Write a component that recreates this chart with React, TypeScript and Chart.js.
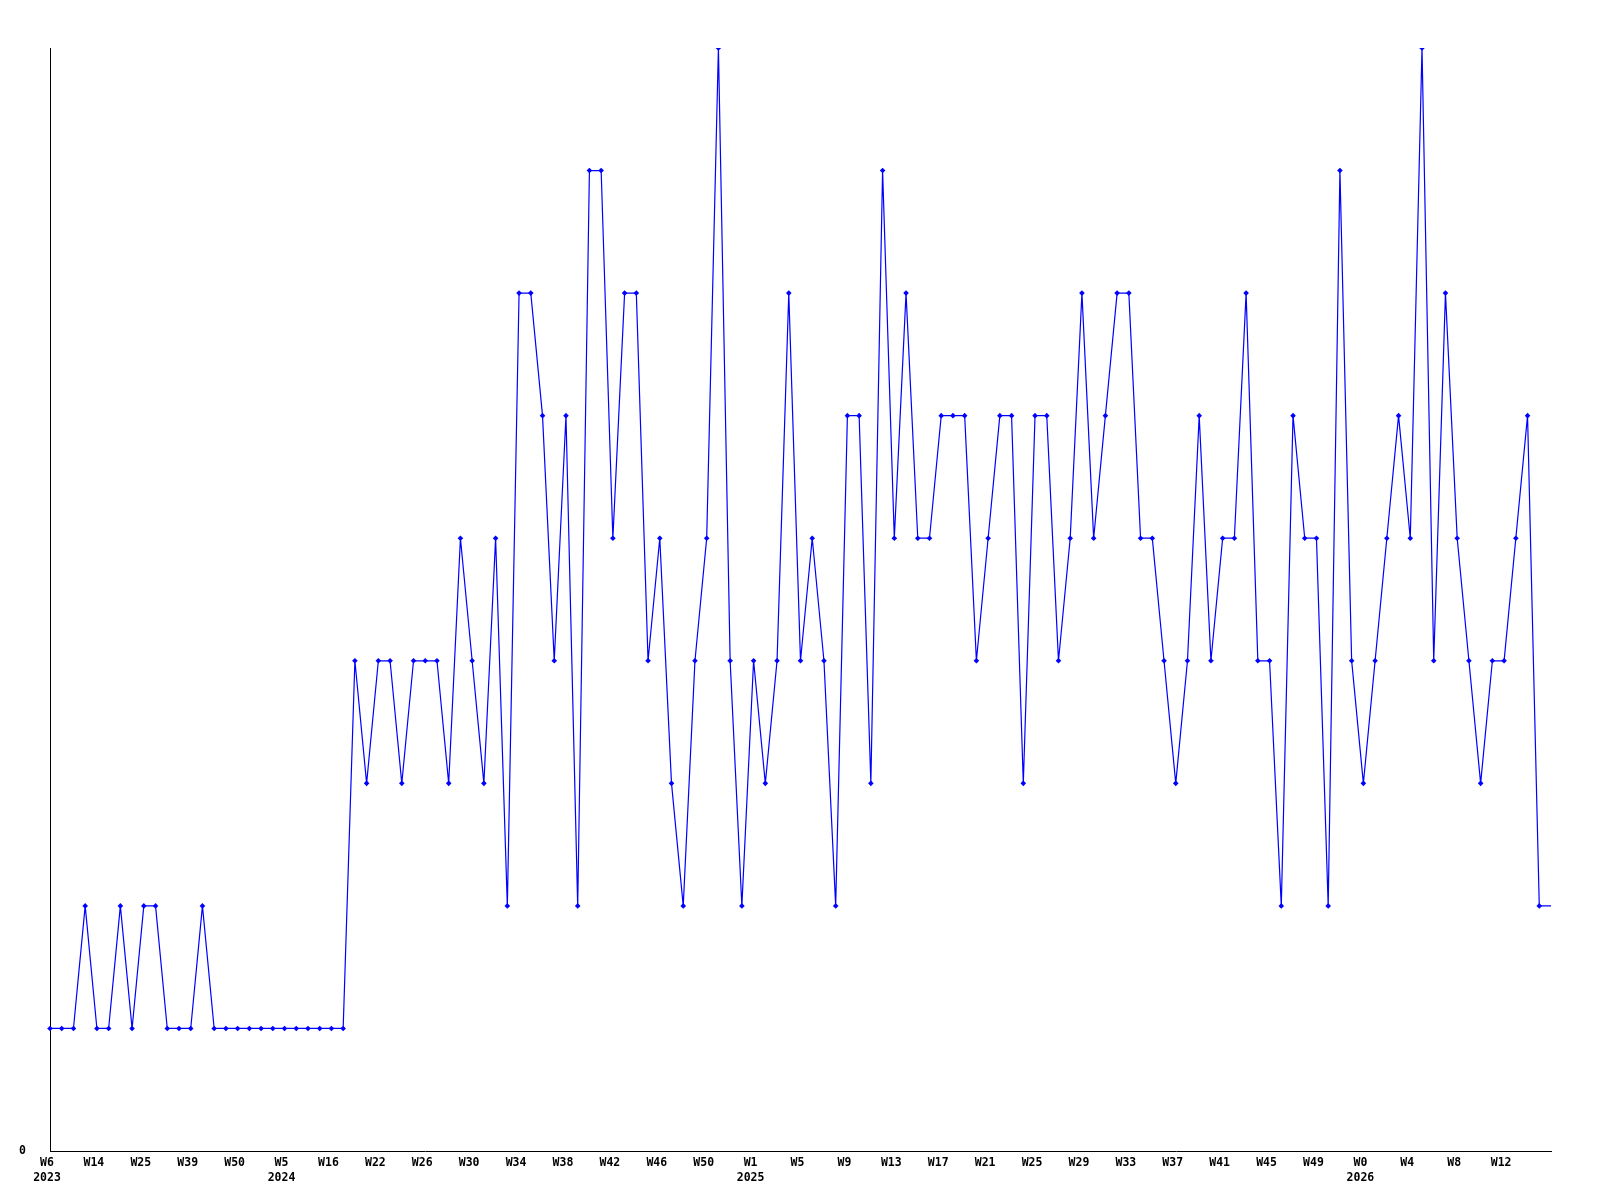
import React, { useEffect, useRef } from "react";
import { Chart, registerables } from "chart.js";

Chart.register(...registerables);

const weeks: number[] = [
  6, 8, 10, 12, 14, 17, 19, 22, 25, 29, 32, 36, 39, 42, 45, 47, 50, 52,
  1, 3, 5, 8, 11, 13, 16, 18, 20, 21, 22, 23, 24, 25, 26, 27, 28, 29, 30, 31, 32, 33, 34, 35, 36, 37, 38, 39, 40, 41, 42, 43, 44, 45, 46, 47, 48, 49, 50, 51, 52,
  0, 1, 2, 3, 4, 5, 6, 7, 8, 9, 10, 11, 12, 13, 14, 15, 16, 17, 18, 19, 20, 21, 22, 23, 24, 25, 26, 27, 28, 29, 30, 31, 32, 33, 34, 35, 36, 37, 38, 39, 40, 41, 42, 43, 44, 45, 46, 47, 48, 49, 50, 51, 52,
  0, 1, 2, 3, 4, 5, 6, 7, 8, 9, 10, 11, 12, 13, 14, 15, 16,
];

const years: number[] = [
  2023, 2023, 2023, 2023, 2023, 2023, 2023, 2023, 2023, 2023, 2023, 2023, 2023, 2023, 2023, 2023, 2023, 2023,
  2024, 2024, 2024, 2024, 2024, 2024, 2024, 2024, 2024, 2024, 2024, 2024, 2024, 2024, 2024, 2024, 2024, 2024, 2024, 2024, 2024, 2024, 2024, 2024, 2024, 2024, 2024, 2024, 2024, 2024, 2024, 2024, 2024, 2024, 2024, 2024, 2024, 2024, 2024, 2024, 2024,
  2025, 2025, 2025, 2025, 2025, 2025, 2025, 2025, 2025, 2025, 2025, 2025, 2025, 2025, 2025, 2025, 2025, 2025, 2025, 2025, 2025, 2025, 2025, 2025, 2025, 2025, 2025, 2025, 2025, 2025, 2025, 2025, 2025, 2025, 2025, 2025, 2025, 2025, 2025, 2025, 2025, 2025, 2025, 2025, 2025, 2025, 2025, 2025, 2025, 2025, 2025, 2025, 2025,
  2026, 2026, 2026, 2026, 2026, 2026, 2026, 2026, 2026, 2026, 2026, 2026, 2026, 2026, 2026, 2026, 2026,
];

const values: number[] = [
  1, 1, 1, 2, 1, 1, 2, 1, 2, 2, 1, 1, 1, 2,
  1, 1, 1, 1, 1, 1, 1, 1, 1, 1, 1, 1,
  4, 3, 4, 4, 3, 4, 4, 4, 3, 5, 4, 3, 5, 2,
  7, 7, 6, 4, 6, 2, 8, 8, 5, 7, 7, 4, 5, 3, 2, 4, 5, 9, 4, 2,
  4, 3, 4, 7, 4, 5, 4, 2, 6, 6, 3, 8, 5, 7, 5, 5, 6, 6, 6, 4,
  5, 6, 6, 3, 6, 6, 4, 5, 7, 5, 6, 7, 7, 5, 5, 4, 3, 4, 6, 4,
  5, 5, 7, 4, 4, 2, 6, 5, 5, 2, 8, 4, 3, 4, 5, 6, 5, 9, 4, 7,
  5, 4, 3, 4, 4, 5, 6, 2, 2,
];

const yTickLabels: Record<number, string> = { 0: "0" };
const Y_MIN = 0;
const Y_MAX = 9;
const LABEL_EVERY = 4;

const categories = weeks.map((w, i) => `${years[i]}-W${w}`);

export default function App() {
  const ref = useRef<HTMLCanvasElement | null>(null);

  useEffect(() => {
    if (!ref.current) return;
    const font = { family: "'DejaVu Sans Mono', monospace", size: 11.5, weight: "bold" as const, lineHeight: 1.3 };
    const lastIdx = values.length - 1;
    const chart = new Chart(ref.current, {
      type: "line",
      data: {
        labels: categories,
        datasets: [
          {
            data: values,
            borderColor: "#0000ff",
            backgroundColor: "#0000ff",
            borderWidth: 1.2,
            pointStyle: "rectRot",
            pointRadius: (ctx: any) => (ctx.dataIndex === lastIdx ? 0 : 2.8),
            pointBorderWidth: 0,
            pointBackgroundColor: "#0000ff",
            tension: 0,
            fill: false,
          },
        ],
      },
      options: {
        animation: false,
        responsive: false,
        devicePixelRatio: 1,
        layout: { padding: { left: 0, right: 49, top: 48, bottom: 0 } },
        plugins: { legend: { display: false }, tooltip: { enabled: false } },
        scales: {
          x: {
            type: "category",
            offset: false,
            grid: { display: false, drawTicks: false },
            border: { display: true, color: "#000000", width: 1 },
            ticks: {
              autoSkip: false,
              maxRotation: 0,
              minRotation: 0,
              color: "#000000",
              font,
              padding: 5,
              labelOffset: -3,
              callback: (_v: any, index: number) => {
                if (index % LABEL_EVERY !== 0 || index === lastIdx) return "";
                const lbl = `W${weeks[index]}`;
                const prev = index - LABEL_EVERY;
                if (prev < 0 || years[prev] !== years[index]) return [lbl, String(years[index])];
                return lbl;
              },
            },
            afterFit: (s: any) => {
              s.height = 49;
            },
          },
          y: {
            min: Y_MIN,
            max: Y_MAX,
            grid: { display: false, drawTicks: false },
            border: { display: true, color: "#000000", width: 1 },
            ticks: {
              stepSize: 1,
              color: "#000000",
              font,
              padding: 24,
              callback: (v: any) => (yTickLabels[v as number] ?? ""),
            },
            afterFit: (s: any) => {
              s.width = 50;
            },
          },
        },
      },
    });
    return () => chart.destroy();
  }, []);

  return (
    <div style={{ position: "absolute", left: 0, top: 0, width: 1600, height: 1200, background: "#ffffff" }}>
      <canvas ref={ref} width={1600} height={1200} />
    </div>
  );
}
